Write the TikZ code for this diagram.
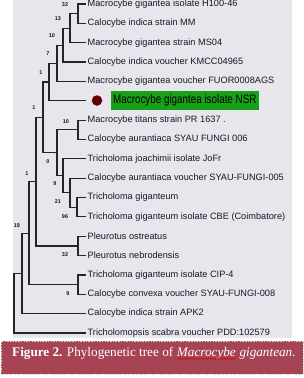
\documentclass[tikz,border=0pt]{standalone}
\usepackage{fontspec}
\setmainfont{Liberation Serif}
\newfontfamily\leaffont{Liberation Sans}
\newfontfamily\nsrfont[FakeStretch=0.8]{Liberation Sans}
\definecolor{panelgray}{RGB}{230,230,236}
\definecolor{treecol}{RGB}{36,36,44}
\definecolor{leafcol}{RGB}{24,24,40}
\definecolor{nsrgreen}{RGB}{24,160,24}
\definecolor{dotred}{RGB}{96,0,0}
\definecolor{capred}{RGB}{166,68,84}
\usetikzlibrary{positioning,decorations.pathmorphing}

\begin{document}
\begin{tikzpicture}[x=1pt,y=-1pt,
  branch/.style={line width=1.2pt, draw=treecol, line cap=rect},
  leaf/.style={anchor=west, inner sep=2.5pt, font=\leaffont\fontsize{9.2}{10}\selectfont, text=leafcol},
  boot/.style={inner sep=0pt, font=\leaffont\bfseries\fontsize{5.5}{6}\selectfont, text=leafcol},
  captext/.style={inner sep=0pt, anchor=base west, text=white, font=\fontsize{13.2}{15}\selectfont},
  squiggle/.style={draw=red!85!black, line width=0.5pt, decorate, decoration={snake, amplitude=0.7pt, segment length=2.6pt}}]
  \useasboundingbox (0,0) rectangle (304,378);

  % Panel
  \fill[panelgray] (13,0) rectangle (292,338);

  % Leaves
  \node[leaf] (lH100) at (85,4) {Macrocybe gigantea isolate H100-46};
  \node[leaf] (lMM) at (85,23.35) {Calocybe indica strain MM};
  \node[leaf] (lMS04) at (85,42.7) {Macrocybe gigantea strain MS04};
  \node[leaf] (lKMCC) at (85,62.05) {Calocybe indica voucher KMCC04965};
  \node[leaf] (lFUOR) at (85,81.4) {Macrocybe gigantea voucher FUOR0008AGS};
  \coordinate (tNSR) at (85,100.75);
  \node[circle, fill=dotred, minimum size=10.5pt, inner sep=0pt] (dNSR) at (97,100.5) {};
  \node[anchor=west, fill=nsrgreen, minimum height=19pt, inner sep=2pt, font=\nsrfont\fontsize{12.3}{13}\selectfont, text=black] (lNSR) at (111,100.5) {Macrocybe gigantea isolate NSR};
  \node[leaf] (lTitans) at (85,120.1) {Macrocybe titans strain PR 1637 .};
  \node[leaf] (lAur006) at (85,139.45) {Calocybe aurantiaca SYAU FUNGI 006};
  \node[leaf] (lJoach) at (85,158.8) {Tricholoma joachimii isolate JoFr};
  \node[leaf] (lAur005) at (85,178.15) {Calocybe aurantiaca voucher SYAU-FUNGI-005};
  \node[leaf] (lTgig) at (85,197.5) {Tricholoma giganteum};
  \node[leaf] (lTgigCBE) at (85,216.85) {Tricholoma giganteum isolate CBE (Coimbatore)};
  \node[leaf] (lPost) at (85,236.2) {Pleurotus ostreatus};
  \node[leaf] (lPneb) at (85,255.55) {Pleurotus nebrodensis};
  \node[leaf] (lTgigCIP) at (85,274.9) {Tricholoma giganteum isolate CIP-4};
  \node[leaf] (lCconv) at (85,294.25) {Calocybe convexa voucher SYAU-FUNGI-008};
  \node[leaf] (lCindAPK) at (85,313.6) {Calocybe indica strain APK2};
  \node[leaf] (lTscab) at (85,332.95) {Tricholomopsis scabra voucher PDD:102579};

  % Inner nodes
  \coordinate (nA1) at (78,13.7);
  \coordinate (nA2) at (70,28.2);
  \coordinate (nA3) at (63,45.1);
  \coordinate (nA4) at (57,63.3);
  \coordinate (nA5) at (49,82);
  \coordinate (nB1) at (78,129.8);
  \coordinate (nB4) at (77,207.2);
  \coordinate (nB3) at (70,192.7);
  \coordinate (nB2) at (63,175.7);
  \coordinate (nB5) at (57,152.8);
  \coordinate (nAB) at (43,117.4);
  \coordinate (nP) at (78,245.9);
  \coordinate (nABP) at (36,181.6);
  \coordinate (nC) at (78,284.6);
  \coordinate (nABPC) at (29,233.1);
  \coordinate (nD) at (22,273.4);
  \coordinate (nRoot) at (14,303.2);

  % Branches
  \draw[branch] (nA1) |- (lH100.west);
  \draw[branch] (nA1) |- (lMM.west);
  \draw[branch] (nA2) |- (nA1);
  \draw[branch] (nA2) |- (lMS04.west);
  \draw[branch] (nA3) |- (nA2);
  \draw[branch] (nA3) |- (lKMCC.west);
  \draw[branch] (nA4) |- (nA3);
  \draw[branch] (nA4) |- (lFUOR.west);
  \draw[branch] (nA5) |- (nA4);
  \draw[branch] (nA5) |- (tNSR);
  \draw[branch] (nB1) |- (lTitans.west);
  \draw[branch] (nB1) |- (lAur006.west);
  \draw[branch] (nB4) |- (lTgig.west);
  \draw[branch] (nB4) |- (lTgigCBE.west);
  \draw[branch] (nB3) |- (lAur005.west);
  \draw[branch] (nB3) |- (nB4);
  \draw[branch] (nB2) |- (lJoach.west);
  \draw[branch] (nB2) |- (nB3);
  \draw[branch] (nB5) |- (nB1);
  \draw[branch] (nB5) |- (nB2);
  \draw[branch] (nAB) |- (nA5);
  \draw[branch] (nAB) |- (nB5);
  \draw[branch] (nP) |- (lPost.west);
  \draw[branch] (nP) |- (lPneb.west);
  \draw[branch] (nABP) |- (nAB);
  \draw[branch] (nABP) |- (nP);
  \draw[branch] (nC) |- (lTgigCIP.west);
  \draw[branch] (nC) |- (lCconv.west);
  \draw[branch] (nABPC) |- (nABP);
  \draw[branch] (nABPC) |- (nC);
  \draw[branch] (nD) |- (nABPC);
  \draw[branch] (nD) |- (lCindAPK.west);
  \draw[branch] (nRoot) |- (nD);
  \draw[branch] (nRoot) |- (lTscab.west);

  % Bootstrap values
  \node[boot] (bA1) at (65,5) {32};
  \node[boot] (bA2) at (58,19) {13};
  \node[boot] (bA3) at (52,36) {10};
  \node[boot] (bA4) at (48,54) {7};
  \node[boot] (bA5) at (41,73) {1};
  \node[boot] (bAB) at (34,108) {1};
  \node[boot] (bB1) at (66,122) {10};
  \node[boot] (bB5) at (48,162) {0};
  \node[boot] (bB2) at (55,184) {9};
  \node[boot] (bB3) at (58,202) {21};
  \node[boot] (bB4) at (65,217) {96};
  \node[boot] (bABP) at (27,174) {1};
  \node[boot] (bP) at (65,255) {32};
  \node[boot] (bC) at (68,294) {9};
  \node[boot] (bABPC) at (17,226) {19};

  % Caption
  \node[fill=capred, draw=gray!35, dash pattern=on 1.5pt off 1.2pt, line width=0.6pt, minimum width=302pt, minimum height=33pt, inner sep=0pt] (capbox) at (152,357.5) {};
  \node[captext] (cap1) at (12,356) {\textbf{Figure 2.} Phylogenetic tree of};
  \node[captext, xshift=3.3pt] (cap2) at (cap1.base east) {\textit{Macrocybe}};
  \node[captext, xshift=3.3pt] (cap3) at (cap2.base east) {\textit{gigantean.}};
  \draw[squiggle] ([yshift=-2.6pt]cap2.base west) -- ([yshift=-2.6pt]cap2.base east);
\end{tikzpicture}
\end{document}
